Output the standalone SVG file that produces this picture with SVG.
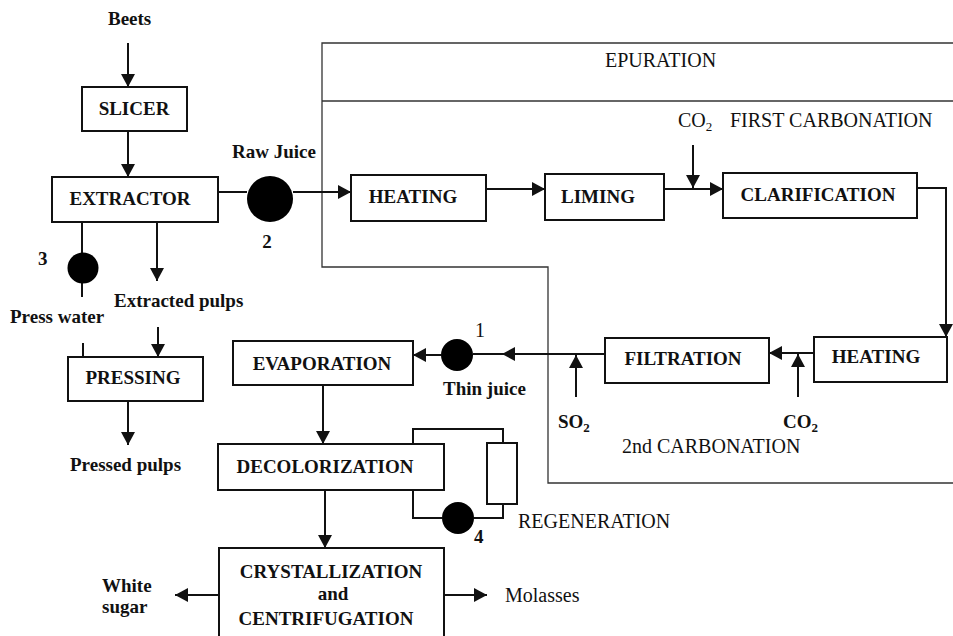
<svg xmlns="http://www.w3.org/2000/svg" width="953" height="636" viewBox="0 0 953 636">
<style>
.box{fill:#fff;stroke:#111;stroke-width:2}
.ln{fill:none;stroke:#111;stroke-width:2}
.arr{fill:none;stroke:#111;stroke-width:2;marker-end:url(#ah)}
.frame{fill:none;stroke:#333;stroke-width:1.3}
.pump{fill:#000}
.lb{font-family:"Liberation Serif","Times New Roman",serif;font-weight:bold;font-size:19px;fill:#111}
.lr{font-family:"Liberation Serif","Times New Roman",serif;font-size:20px;fill:#111}
.c{text-anchor:middle}
</style>
<defs>
<marker id="ah" viewBox="0 0 13 14" refX="13" refY="7" markerWidth="13" markerHeight="14" orient="auto" markerUnits="userSpaceOnUse"><path d="M0,0 L13,7 L0,14 z" fill="#111"/></marker>
</defs>
<rect width="953" height="636" fill="#fff"/>

<g id="epuration-frame">
<path class="frame" d="M953,43 H322 V267 H548 V483 H953"/>
<path class="frame" d="M322,101 H953"/>
<text class="lr" x="605" y="67">EPURATION</text>
</g>

<g id="connectors">
<path class="arr" d="M128,43 V87"/>
<path class="arr" d="M128,131 V177"/>
<path class="ln" d="M218,192 H247"/>
<path class="arr" d="M293,192 H351"/>
<path class="arr" d="M486,189 H545"/>
<path class="arr" d="M664,189 H723"/>
<path class="arr" d="M693,145 V188"/>
<path class="arr" d="M917,188 H946 V337"/>
<path class="arr" d="M814,353 H769"/>
<path class="arr" d="M798,397 V354"/>
<path class="ln" d="M605,354 H473"/>
<polygon points="502,354 515,347 515,361" fill="#111"/>
<path class="arr" d="M576,397 V355"/>
<path class="arr" d="M441,355 H413"/>
<path class="arr" d="M323,385 V444"/>
<path class="arr" d="M325,490 V548"/>
<path class="arr" d="M219,595 H175"/>
<path class="arr" d="M444,595 H487"/>
<path class="ln" d="M413,444 V429 H503 V443"/>
<path class="ln" d="M413,490 V518 H442"/>
<path class="ln" d="M474,518 H503 V504"/>
<path class="ln" d="M82,222 V253"/>
<path class="ln" d="M82,283 V297"/>
<path class="arr" d="M157,222 V281"/>
<path class="ln" d="M83,343 V357"/>
<path class="arr" d="M158,327 V357"/>
<path class="arr" d="M128,401 V445"/>
</g>

<g id="beets"><text class="lb" x="108" y="25">Beets</text></g>
<g id="slicer"><rect class="box" x="82" y="87" width="105" height="44"/><text class="lb c" x="134" y="115">SLICER</text></g>
<g id="extractor"><rect class="box" x="52" y="177" width="166" height="45"/><text class="lb c" x="130" y="205">EXTRACTOR</text></g>
<g id="pump2"><circle class="pump" cx="270" cy="199" r="23"/><text class="lb" x="232" y="158">Raw Juice</text><text class="lb c" x="267" y="248">2</text></g>
<g id="pump3"><circle class="pump" cx="83" cy="268" r="15.5"/><text class="lb" x="38" y="265">3</text></g>
<g id="extracted-pulps"><text class="lb" x="114" y="307">Extracted pulps</text></g>
<g id="press-water"><text class="lb" x="10" y="323">Press water</text></g>
<g id="pressing"><rect class="box" x="68" y="357" width="135" height="44"/><text class="lb c" x="133" y="384">PRESSING</text></g>
<g id="pressed-pulps"><text class="lb" x="70" y="471">Pressed pulps</text></g>
<g id="heating1"><rect class="box" x="351" y="175" width="135" height="46"/><text class="lb c" x="413" y="203">HEATING</text></g>
<g id="liming"><rect class="box" x="545" y="174" width="119" height="46"/><text class="lb c" x="598" y="203">LIMING</text></g>
<g id="first-carbonation"><text class="lr" x="678" y="127">CO<tspan font-size="13" dy="4">2</tspan></text><text class="lr" x="730" y="127">FIRST CARBONATION</text></g>
<g id="clarification"><rect class="box" x="723" y="173" width="194" height="45"/><text class="lb c" x="818" y="201">CLARIFICATION</text></g>
<g id="heating2"><rect class="box" x="814" y="337" width="133" height="45"/><text class="lb c" x="876" y="363">HEATING</text></g>
<g id="filtration"><rect class="box" x="605" y="338" width="164" height="45"/><text class="lb c" x="683" y="365">FILTRATION</text></g>
<g id="so2"><text class="lb" x="558" y="428">SO<tspan font-size="13" dy="4">2</tspan></text></g>
<g id="co2"><text class="lb" x="783" y="428">CO<tspan font-size="13" dy="4">2</tspan></text></g>
<g id="second-carbonation"><text class="lr" x="622" y="453">2nd CARBONATION</text></g>
<g id="pump1"><circle class="pump" cx="457" cy="355" r="16"/><text class="lr" x="475" y="337" font-size="16">1</text><text class="lb" x="443" y="395">Thin juice</text></g>
<g id="evaporation"><rect class="box" x="233" y="341" width="180" height="44"/><text class="lb c" x="322" y="370">EVAPORATION</text></g>
<g id="decolorization"><rect class="box" x="218" y="444" width="226" height="46"/><text class="lb c" x="325" y="473">DECOLORIZATION</text></g>
<g id="regeneration"><rect class="box" x="487" y="443" width="30" height="61"/><text class="lr" x="518" y="528">REGENERATION</text></g>
<g id="pump4"><circle class="pump" cx="458" cy="518" r="16"/><text class="lb" x="474" y="543" font-size="17">4</text></g>
<g id="crystallization"><rect class="box" x="219" y="548" width="225" height="100"/>
<text class="lb c" x="331" y="578">CRYSTALLIZATION</text>
<text class="lb c" x="333" y="600">and</text>
<text class="lb c" x="326" y="625">CENTRIFUGATION</text></g>
<g id="white-sugar"><text class="lb" x="102" y="592">White</text><text class="lb" x="102" y="613">sugar</text></g>
<g id="molasses"><text class="lr" x="505" y="602">Molasses</text></g>
</svg>
